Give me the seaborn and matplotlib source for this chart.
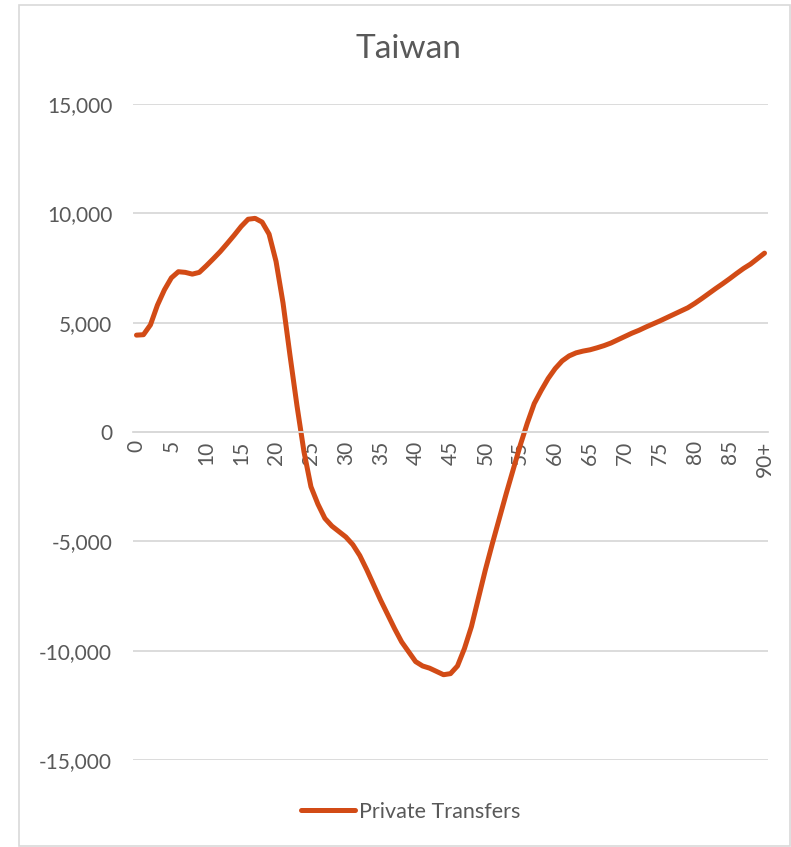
import numpy as np
import pandas as pd
import matplotlib
matplotlib.use("Agg")
import matplotlib.pyplot as plt
import seaborn as sns
from matplotlib.patches import Rectangle

# ages 0..90 (last one is 90+)
ages = list(range(91))
tick_pos = list(range(0, 91, 5))
tick_labels = [str(a) for a in range(0, 90, 5)] + ["90+"]

private_transfers = [
    4430, 4450, 4900, 5800, 6500, 7050, 7330, 7300, 7220, 7300,
    7600, 7920, 8250, 8620, 9000, 9400, 9730, 9770, 9600, 9050,
    7800, 5900, 3500, 1200, -900, -2500, -3300, -3950, -4300, -4550,
    -4800, -5150, -5650, -6300, -7000, -7700, -8350, -9000, -9600, -10050,
    -10500, -10700, -10800, -10950, -11100, -11050, -10700, -9900, -8900, -7600,
    -6300, -5100, -3950, -2800, -1700, -600, 400, 1300, 1900, 2450,
    2900, 3250, 3480, 3620, 3700, 3760, 3850, 3950, 4070, 4220,
    4370, 4520, 4650, 4800, 4940, 5080, 5230, 5380, 5530, 5680,
    5880, 6100, 6330, 6560, 6780, 7010, 7250, 7480, 7680, 7930,
    8180,
]

df = pd.DataFrame({"age": ages, "Private Transfers": private_transfers})

sns.set_style("white")
plt.rcParams['font.family'] = ['Lato', 'DejaVu Sans']

text_gray = "#595959"
grid_gray = "#D9D9D9"
line_col = "#D24B16"
fs = 15

fig = plt.figure(figsize=(7.91, 8.47), dpi=100)
ax = fig.add_axes([133 / 791, 1 - 760 / 847, (768 - 133) / 791, (760 - 104) / 847])

sns.lineplot(data=df, x="age", y="Private Transfers", color=line_col, linewidth=3.6,
             ax=ax, label="Private Transfers", legend=False)
ax.lines[0].set_solid_capstyle("round")

ax.set_xlim(-0.5, 90.5)
ax.set_ylim(-15000, 15000)
ax.set_yticks(range(-15000, 15001, 5000))
ax.set_yticklabels([f"{v:,}" for v in range(-15000, 15001, 5000)])
ax.set_xticks(tick_pos)
ax.set_xticklabels(tick_labels)
ax.set_xlabel("")
ax.set_ylabel("")

ax.grid(axis="y", color=grid_gray, linewidth=1.3)
ax.set_axisbelow(True)
for s in ["top", "right", "left"]:
    ax.spines[s].set_visible(False)
ax.spines["bottom"].set_position(("data", 0))
ax.spines["bottom"].set_color(grid_gray)
ax.spines["bottom"].set_linewidth(1.3)
ax.tick_params(axis="both", length=0, labelsize=fs, colors=text_gray)
ax.tick_params(axis="y", pad=15)
ax.tick_params(axis="x", pad=6, labelrotation=90)

fig.text(408 / 791, 1 - 49 / 847, "Taiwan", ha="center", va="center",
         fontsize=24, color=text_gray)

leg = fig.legend(handles=ax.lines[:1], labels=["Private Transfers"],
                 loc="center", bbox_to_anchor=(411 / 791, 1 - 812 / 847),
                 frameon=False, fontsize=15.5, handlelength=2.5, handletextpad=0.2)
for t in leg.get_texts():
    t.set_color(text_gray)

fig.patches.append(Rectangle((19 / 791, 1 / 847), 790 / 791 - 19 / 791, 1 - 5 / 847 - 1 / 847,
                             transform=fig.transFigure, fill=False,
                             edgecolor=grid_gray, linewidth=1.2))

fig.savefig("out.png", dpi=100)
